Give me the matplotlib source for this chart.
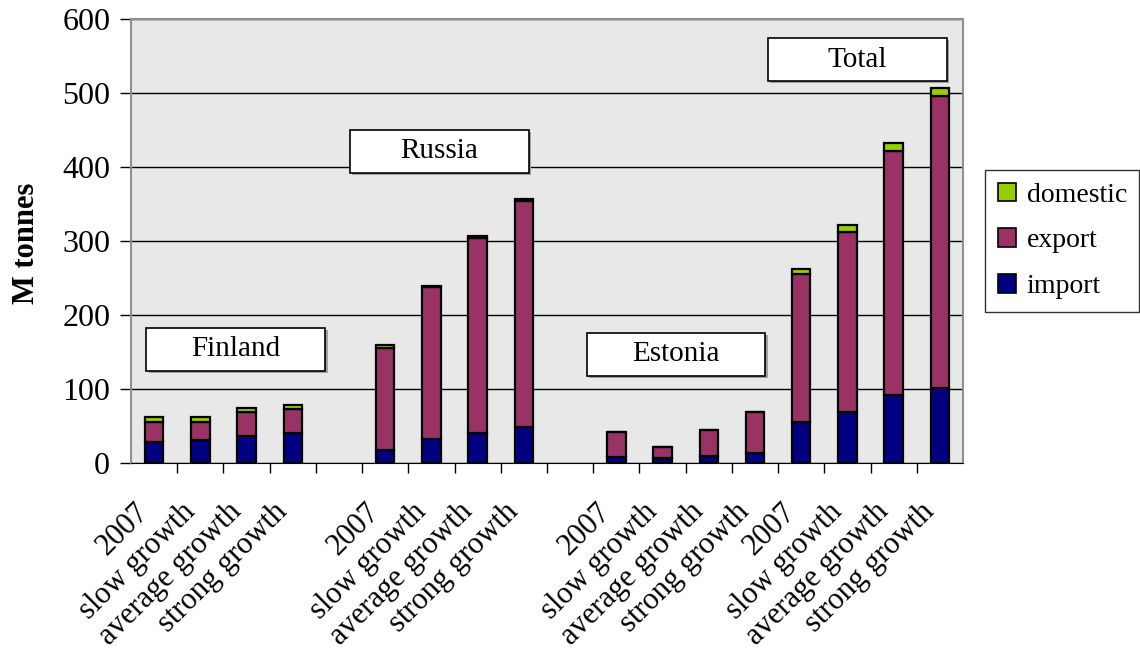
import matplotlib
matplotlib.use("Agg")
import matplotlib.pyplot as plt
import matplotlib.transforms as mtransforms
import numpy as np
from matplotlib.patches import Rectangle, Patch

plt.rcParams["font.family"] = ["Liberation Serif", "DejaVu Serif"]

# four scenarios per region, an empty slot between Finland/Russia/Estonia
scenarios = ["2007", "slow growth", "average growth", "strong growth"]
regions = ["Finland", "Russia", "Estonia", "Total"]
region_start = [0, 5, 10, 14]

import_mt = [29, 31, 37, 40,   18, 32, 40, 48,   8, 7, 10, 13,   56, 69, 92, 102]
export_mt = [27, 25, 32, 33,   138, 206, 264, 306,   34, 14, 35, 56,   200, 243, 329, 394]
domestic_mt = [6, 6, 6, 6,   3, 1, 3, 3,   0, 0, 0, 0,   6, 9, 11, 11]

n_slots = 18
positions = np.array([s + i for s in region_start for i in range(len(scenarios))])
labels = [""] * n_slots
for s in region_start:
    for i, name in enumerate(scenarios):
        labels[s + i] = name

fig = plt.figure(figsize=(11.4, 6.52), dpi=100)
ax = fig.add_axes([131 / 1140, 1 - 463 / 652, 832 / 1140, 444 / 652])
ax.set_facecolor("#e8e8e8")

imp = np.array(import_mt)
exp_ = np.array(export_mt)
dom = np.array(domestic_mt)
w = 0.4
kw = dict(width=w, edgecolor="black", linewidth=1.6, zorder=3)
ax.bar(positions, imp, color="#000080", **kw)
ax.bar(positions, exp_, bottom=imp, color="#993366", **kw)
ax.bar(positions, dom, bottom=imp + exp_, color="#99cc00", **kw)

ax.set_xlim(-0.5, n_slots - 0.5)
ax.set_ylim(0, 600)
ax.set_yticks(np.arange(0, 601, 100))
ax.yaxis.grid(True, color="black", linewidth=1.0, zorder=0)
ax.tick_params(axis="y", labelsize=23, length=8, width=1, pad=7, direction="out")

# category ticks sit between slots, labels centred on slots
ax.set_xticks(np.arange(0.5, n_slots - 0.5, 1.0))
ax.set_xticklabels([])
ax.tick_params(axis="x", length=7.5, width=1, direction="out")
ax.set_xticks(np.arange(n_slots), minor=True)
ax.set_xticklabels(labels, minor=True, rotation=45, ha="right",
                   rotation_mode="anchor", fontsize=22)
ax.tick_params(axis="x", which="minor", length=0, pad=6)
shift = mtransforms.ScaledTranslation(-0.2, -0.26, fig.dpi_scale_trans)
for lab in ax.get_xticklabels(minor=True):
    lab.set_transform(lab.get_transform() + shift)

for side in ["top", "right", "left"]:
    ax.spines[side].set_color("#909090")
    ax.spines[side].set_linewidth(1.5)
ax.spines["bottom"].set_color("black")

ax.set_ylabel("M tonnes", fontsize=22, fontweight="bold")
ax.yaxis.set_label_coords(-0.108, 0.495)

# region name boxes
box_centres = [(1.77, 154), (6.17, 421), (11.29, 147), (15.21, 545)]
bw, bh = 3.87, 58
for name, (cx, cy) in zip(regions, box_centres):
    ax.add_patch(Rectangle((cx - bw / 2 + 0.05, cy - bh / 2 - 3), bw, bh,
                           facecolor="#a0a0a0", edgecolor="none", zorder=4))
    ax.add_patch(Rectangle((cx - bw / 2, cy - bh / 2), bw, bh,
                           facecolor="white", edgecolor="black", linewidth=1.2, zorder=5))
    ax.text(cx, cy, name, ha="center", va="center", fontsize=21, zorder=6)

handles = [Patch(facecolor=c, edgecolor="black", linewidth=1.2)
           for c in ["#99cc00", "#993366", "#000080"]]
leg = fig.legend(handles, ["domestic", "export", "import"],
                 loc="upper left", bbox_to_anchor=(985 / 1140, 1 - 170 / 652),
                 fontsize=20, frameon=True, fancybox=False, edgecolor="black",
                 handlelength=0.65, handleheight=0.65, handletextpad=0.4,
                 labelspacing=0.75, borderpad=0.45, borderaxespad=0)
leg.get_frame().set_linewidth(1.0)

fig.savefig("out.png", dpi=100, facecolor="white")
